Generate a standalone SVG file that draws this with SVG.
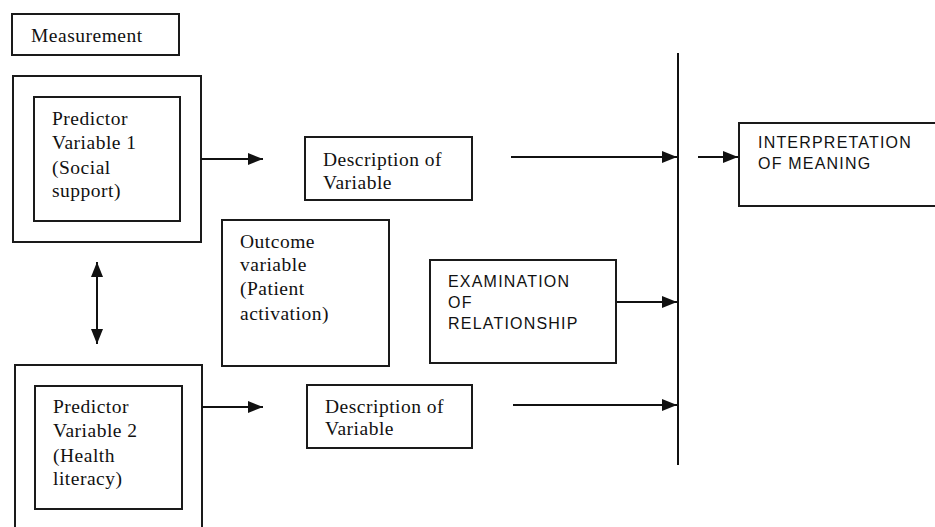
<svg xmlns="http://www.w3.org/2000/svg" width="935" height="527" viewBox="0 0 935 527">
<style>
.box{fill:none;stroke:#1a1a1a;stroke-width:2}
.t{font-family:"Liberation Serif","Times New Roman",serif;font-size:19.5px;letter-spacing:0.5px;fill:#111}
.c{font-family:"Liberation Sans",Arial,sans-serif;font-size:16px;letter-spacing:1.2px;fill:#111}
.ln{stroke:#111;stroke-width:2;fill:none}
</style>
<defs>
<marker id="ah" markerUnits="userSpaceOnUse" markerWidth="16" markerHeight="14" refX="15" refY="6" orient="auto-start-reverse">
<path d="M0,0 L15,6 L0,12 Z" fill="#111"/>
</marker>
</defs>
<rect width="935" height="527" fill="#fff"/>
<g id="measurement">
<rect class="box" x="12" y="14" width="167" height="41"/>
<text class="t" x="31" y="42">Measurement</text>
</g>
<g id="predictor1">
<rect class="box" x="13" y="76" width="188" height="166"/>
<rect class="box" x="34" y="97" width="146" height="124"/>
<text class="t" x="52" y="125">Predictor</text>
<text class="t" x="52" y="149">Variable 1</text>
<text class="t" x="52" y="174">(Social</text>
<text class="t" x="52" y="197">support)</text>
</g>
<g id="predictor2">
<rect class="box" x="15" y="365" width="187" height="180"/>
<rect class="box" x="35" y="386" width="147" height="123"/>
<text class="t" x="53" y="413">Predictor</text>
<text class="t" x="53" y="437">Variable 2</text>
<text class="t" x="53" y="462">(Health</text>
<text class="t" x="53" y="485">literacy)</text>
</g>
<g id="description1">
<rect class="box" x="305" y="137" width="167" height="63"/>
<text class="t" x="323" y="166">Description of</text>
<text class="t" x="323" y="189">Variable</text>
</g>
<g id="description2">
<rect class="box" x="307" y="385" width="165" height="63"/>
<text class="t" x="325" y="413">Description of</text>
<text class="t" x="325" y="435">Variable</text>
</g>
<g id="outcome">
<rect class="box" x="222" y="220" width="167" height="146"/>
<text class="t" x="240" y="248">Outcome</text>
<text class="t" x="240" y="271">variable</text>
<text class="t" x="240" y="295">(Patient</text>
<text class="t" x="240" y="320">activation)</text>
</g>
<g id="examination">
<rect class="box" x="430" y="260" width="186" height="103"/>
<text class="c" x="448" y="287">EXAMINATION</text>
<text class="c" x="448" y="308">OF</text>
<text class="c" x="448" y="329">RELATIONSHIP</text>
</g>
<g id="interpretation">
<rect class="box" x="739" y="123" width="210" height="83"/>
<text class="c" x="758" y="148">INTERPRETATION</text>
<text class="c" x="758" y="169">OF MEANING</text>
</g>
<g id="connectors">
<line class="ln" x1="678" y1="53" x2="678" y2="465"/>
<line class="ln" x1="201" y1="159" x2="263" y2="159" marker-end="url(#ah)"/>
<line class="ln" x1="202" y1="407" x2="263" y2="407" marker-end="url(#ah)"/>
<line class="ln" x1="511" y1="157" x2="677" y2="157" marker-end="url(#ah)"/>
<line class="ln" x1="698" y1="157" x2="738" y2="157" marker-end="url(#ah)"/>
<line class="ln" x1="617" y1="302" x2="677" y2="302" marker-end="url(#ah)"/>
<line class="ln" x1="513" y1="405" x2="677" y2="405" marker-end="url(#ah)"/>
<line class="ln" x1="97" y1="262" x2="97" y2="344" marker-start="url(#ah)" marker-end="url(#ah)"/>
</g>
</svg>
